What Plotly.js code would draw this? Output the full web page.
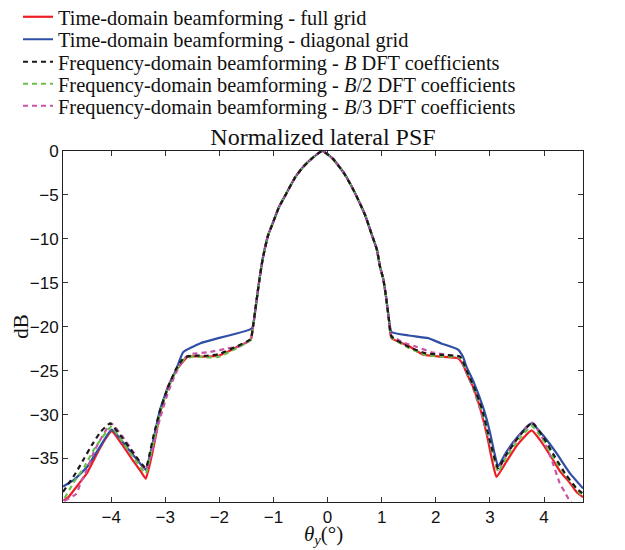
<!DOCTYPE html>
<html>
<head>
<meta charset="utf-8">
<script src="https://cdn.plot.ly/plotly-3.0.1.min.js"></script>
<style>html,body{margin:0;padding:0;background:#fff;}#chart{width:625px;height:550px;}</style>
</head>
<body>
<div id="chart"></div>
<script>
// Shared main lobe (identical for all methods)
var mainX = [-1.38, -1.34, -1.28, -1.2, -1.1, -1.0, -0.9, -0.76, -0.6, -0.45, -0.3, -0.1, 0.1, 0.3, 0.45, 0.6, 0.7, 0.81, 0.91, 0.97, 1.03, 1.08, 1.13];
var mainY = [-20.0, -18.3, -15.5, -12.3, -9.6, -8.0, -6.4, -4.8, -3.0, -1.8, -0.9, 0, -0.9, -2.5, -4.1, -6.0, -7.4, -9.4, -11.2, -13.2, -14.6, -16.6, -19.0];

// Time-domain beamforming - full grid (red)
var redLeftX = [-4.88, -4.79, -4.7, -4.6, -4.45, -4.3, -4.15, -3.99, -3.8, -3.6, -3.45, -3.36, -3.28, -3.19, -3.1, -2.95, -2.79, -2.7, -2.58, -2.3, -2.02, -1.7, -1.42];
var redLeftY = [-39.8, -39.4, -38.7, -37.9, -36.7, -34.9, -33.2, -31.9, -33.4, -35.2, -36.5, -37.3, -35.5, -32.9, -29.9, -26.8, -24.9, -24.2, -23.4, -23.4, -23.3, -22.4, -21.5];
var redRightX = [1.18, 1.5, 1.77, 2.1, 2.41, 2.5, 2.57, 2.7, 2.82, 2.95, 3.05, 3.12, 3.3, 3.5, 3.77, 3.95, 4.17, 4.3, 4.48, 4.6, 4.72];
var redRightY = [-21.3, -22.2, -23.2, -23.4, -23.6, -24.3, -25.3, -27.0, -29.3, -32.5, -35.5, -37.1, -35.4, -33.5, -31.8, -33.1, -35.2, -36.5, -37.8, -38.8, -39.4];

// Time-domain beamforming - diagonal grid (blue)
var blueLeftX = [-4.89, -4.7, -4.45, -4.2, -3.99, -3.7, -3.5, -3.36, -3.29, -3.22, -3.1, -2.92, -2.8, -2.67, -2.36, -2.02, -1.7, -1.43];
var blueLeftY = [-38.2, -37.5, -36.0, -33.6, -31.7, -33.8, -35.3, -36.3, -34.8, -32.9, -29.5, -26.5, -24.9, -22.9, -21.9, -21.3, -20.8, -20.3];
var blueRightX = [1.18, 1.5, 1.86, 2.1, 2.41, 2.5, 2.57, 2.7, 2.88, 3.0, 3.08, 3.15, 3.3, 3.5, 3.77, 4.0, 4.23, 4.48, 4.72];
var blueRightY = [-20.6, -21.0, -21.3, -21.9, -22.6, -23.4, -24.6, -26.3, -29.3, -32.0, -34.3, -35.9, -34.3, -32.6, -31.0, -32.5, -34.4, -36.7, -38.4];

// Frequency-domain beamforming - B DFT coefficients (black dashed)
var blackLeftX = [-4.89, -4.65, -4.5, -4.36, -4.2, -4.02, -3.8, -3.6, -3.36, -3.29, -3.22, -3.1, -2.95, -2.8, -2.65, -2.5, -2.2, -2.0, -1.7, -1.42];
var blackLeftY = [-38.8, -36.6, -35.0, -33.5, -32.0, -31.0, -32.6, -34.3, -36.1, -34.5, -32.5, -29.6, -26.9, -24.8, -23.5, -23.3, -23.3, -23.1, -22.3, -21.4];
var blackRightX = [1.18, 1.5, 1.8, 2.1, 2.45, 2.57, 2.7, 2.85, 3.0, 3.15, 3.3, 3.5, 3.78, 4.0, 4.2, 4.4, 4.6, 4.72];
var blackRightY = [-21.1, -22.3, -23.0, -23.2, -23.4, -25.0, -26.8, -29.3, -33.0, -36.1, -34.6, -32.8, -30.9, -32.7, -34.8, -36.8, -38.4, -39.0];

// Frequency-domain beamforming - B/2 DFT coefficients (green dashed)
var greenLeftX = [-4.86, -4.7, -4.5, -4.3, -4.0, -3.8, -3.6, -3.36, -3.28, -3.2, -3.1, -2.95, -2.8, -2.65, -2.5, -2.2, -2.0, -1.7, -1.42];
var greenLeftY = [-39.5, -37.8, -36.0, -33.8, -31.4, -33.0, -34.8, -36.7, -34.8, -32.6, -29.8, -27.0, -25.0, -23.7, -23.4, -23.5, -23.4, -22.5, -21.5];
var greenRightX = [1.18, 1.5, 1.8, 2.1, 2.45, 2.57, 2.7, 2.85, 3.0, 3.15, 3.3, 3.5, 3.77, 4.0, 4.2, 4.5, 4.72];
var greenRightY = [-21.2, -22.4, -23.2, -23.4, -23.5, -25.1, -26.9, -29.5, -33.2, -36.5, -34.9, -33.1, -31.3, -33.0, -35.2, -37.7, -39.4];

// Frequency-domain beamforming - B/3 DFT coefficients (magenta dashed)
var pinkLeftX = [-4.86, -4.64, -4.55, -4.49, -4.3, -4.0, -3.8, -3.6, -3.36, -3.28, -3.2, -3.1, -2.95, -2.8, -2.65, -2.5, -2.2, -1.87, -1.6, -1.42];
var pinkLeftY = [-39.8, -39.0, -37.5, -36.9, -34.0, -31.0, -32.4, -34.2, -36.3, -35.0, -33.0, -30.5, -27.5, -25.2, -23.6, -23.1, -22.9, -22.5, -22.2, -21.4];
var pinkRightX = [1.18, 1.4, 1.65, 1.92, 2.2, 2.45, 2.55, 2.7, 2.85, 3.0, 3.15, 3.3, 3.5, 3.78, 4.0, 4.15, 4.29, 4.4, 4.48, 4.6, 4.72];
var pinkRightY = [-21.0, -21.8, -22.3, -22.9, -23.2, -23.6, -25.0, -27.2, -30.0, -33.3, -36.3, -34.6, -32.7, -30.9, -33.0, -35.3, -37.8, -39.0, -39.9, -40.5, -41.0];

var seriesNames = [
  'Time-domain beamforming - full grid',
  'Time-domain beamforming - diagonal grid',
  'Frequency-domain beamforming - <i>B</i> DFT coefficients',
  'Frequency-domain beamforming - <i>B</i>/2 DFT coefficients',
  'Frequency-domain beamforming - <i>B</i>/3 DFT coefficients'
];
var xTickVals = [-4, -3, -2, -1, 0, 1, 2, 3, 4];
var yTickVals = [-35, -30, -25, -20, -15, -10, -5, 0];

function build(lx, ly, rx, ry) {
  return {x: lx.concat(mainX, rx), y: ly.concat(mainY, ry)};
}
var red = build(redLeftX, redLeftY, redRightX, redRightY);
var blue = build(blueLeftX, blueLeftY, blueRightX, blueRightY);
var black = build(blackLeftX, blackLeftY, blackRightX, blackRightY);
var green = build(greenLeftX, greenLeftY, greenRightX, greenRightY);
var pink = build(pinkLeftX, pinkLeftY, pinkRightX, pinkRightY);

var dashPat = '5px,4px';
var sm = 0.4;
var traces = [
  {x: red.x, y: red.y, name: seriesNames[0], legend: 'legend', mode: 'lines', line: {color: '#ee1c25', width: 2.2, shape: 'spline', smoothing: sm}},
  {x: blue.x, y: blue.y, name: seriesNames[1], legend: 'legend2', mode: 'lines', line: {color: '#2e4fa5', width: 2.2, shape: 'spline', smoothing: sm}},
  {x: black.x, y: black.y, name: seriesNames[2], legend: 'legend3', mode: 'lines', line: {color: '#1a1a1a', width: 2.2, dash: dashPat, shape: 'spline', smoothing: sm}},
  {x: green.x, y: green.y, name: seriesNames[3], legend: 'legend4', mode: 'lines', line: {color: '#6cc04a', width: 2.2, dash: dashPat, shape: 'spline', smoothing: sm}},
  {x: pink.x, y: pink.y, name: seriesNames[4], legend: 'legend5', mode: 'lines', line: {color: '#c953a6', width: 2.2, dash: dashPat, shape: 'spline', smoothing: sm}}
];
// draw order: red, blue, pink, green, black on top
var ordered = [traces[0], traces[1], traces[4], traces[3], traces[2]];

var serif = '"Liberation Serif", "DejaVu Serif", serif';
var sans = '"Liberation Sans", Arial, sans-serif';

var legendRowY = [17, 39.5, 62, 84, 106];
function legendAt(rowY) {
  return {
    x: 18 / 625, xref: 'container', xanchor: 'left',
    y: 1 - rowY / 550, yref: 'container', yanchor: 'middle',
    font: {family: serif, size: 20.4, color: '#111'},
    bgcolor: 'rgba(0,0,0,0)', borderwidth: 0
  };
}

var layout = {
  width: 625, height: 550,
  margin: {l: 63, r: 42, t: 151, b: 48, pad: 0, autoexpand: false},
  paper_bgcolor: '#ffffff', plot_bgcolor: '#ffffff',
  showlegend: true,
  legend: legendAt(legendRowY[0]),
  legend2: legendAt(legendRowY[1]),
  legend3: legendAt(legendRowY[2]),
  legend4: legendAt(legendRowY[3]),
  legend5: legendAt(legendRowY[4]),
  title: {
    text: 'Normalized lateral PSF',
    font: {family: serif, size: 24, color: '#111'},
    x: 0.5, xref: 'paper', xanchor: 'center',
    y: 1 - 137 / 550, yref: 'container', yanchor: 'middle'
  },
  xaxis: {
    range: [-4.89, 4.72], tickvals: xTickVals, ticks: 'inside', ticklen: 5,
    tickcolor: '#333', showline: true, linecolor: '#222', linewidth: 1, mirror: 'ticks',
    showgrid: false, zeroline: false,
    tickfont: {family: sans, size: 17, color: '#111'}
  },
  yaxis: {
    range: [-39.95, 0], tickvals: yTickVals, ticks: 'inside', ticklen: 5,
    tickcolor: '#333', showline: true, linecolor: '#222', linewidth: 1, mirror: 'ticks',
    showgrid: false, zeroline: false,
    tickfont: {family: sans, size: 17, color: '#111'}
  },
  annotations: [{
    text: 'dB', textangle: -90, showarrow: false,
    xref: 'paper', x: -0.082, xanchor: 'center',
    yref: 'paper', y: 0.5, yanchor: 'middle',
    font: {family: serif, size: 21, color: '#111'}
  }, {
    text: '<i>θ</i><sub><i>y</i></sub>(°)', showarrow: false,
    xref: 'paper', x: 0.5, xanchor: 'center',
    yref: 'paper', y: -0.095, yanchor: 'middle',
    font: {family: serif, size: 21, color: '#111'}
  }]
};

Plotly.newPlot('chart', ordered, layout, {displayModeBar: false, staticPlot: true});
</script>
</body>
</html>
